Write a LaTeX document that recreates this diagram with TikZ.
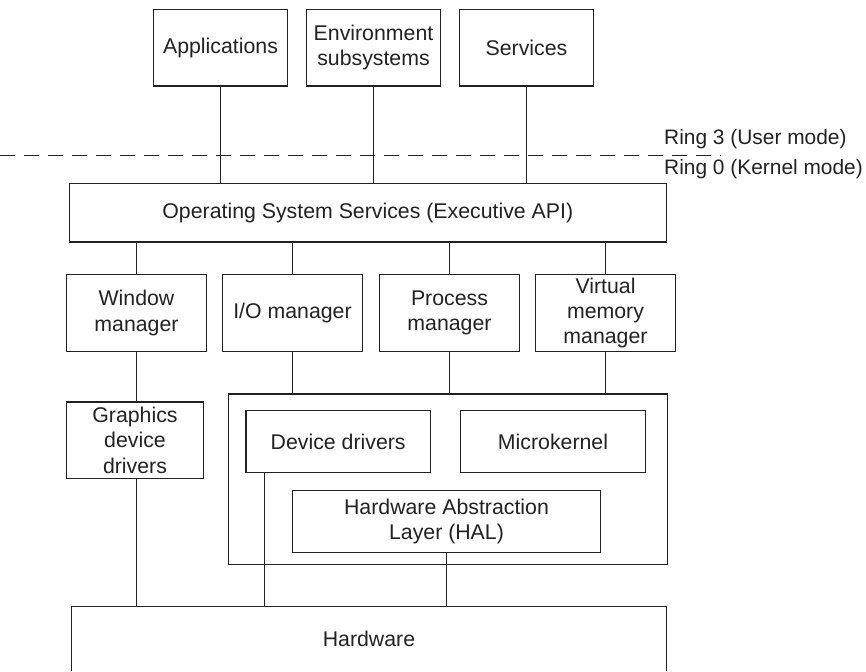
\documentclass[tikz,border=0pt]{standalone}
\usepackage{fontspec}
\setmainfont{Liberation Sans}
\usetikzlibrary{calc}
\definecolor{ink}{HTML}{222222}
\begin{document}
\begin{tikzpicture}[x=1pt,y=-1pt,
  every node/.style={font=\fontsize{21.3}{25.3}\selectfont, text=ink},
  box/.style={draw=ink, line width=1.2pt, inner sep=0pt, align=center},
  wire/.style={draw=ink, line width=1.2pt},
  ringlabel/.style={anchor=base west, inner sep=0pt, font=\fontsize{20.9}{25}\selectfont},
  ringline/.style={draw=ink, line width=1.2pt, dash pattern=on 15pt off 9pt}]
\useasboundingbox (0,0) rectangle (866,671);
% top row
\node[box, minimum width=134.6pt, minimum height=76.7pt] (app) at (220.5,47.7) {Applications};
\node[box, minimum width=134.3pt, minimum height=76.7pt] (env) at (373.5,47.7) {Environment\\subsystems};
\node[box, minimum width=134.7pt, minimum height=76.7pt] (srv) at (526.5,47.7) {Services};
% ring boundary
\coordinate (dl) at (0,155.5);
\coordinate (dr) at (721,155.5);
\draw[ringline] (dl) -- (dr);
\node[ringlabel] (r3) at (664,145) {Ring 3 (User mode)};
\node[ringlabel] (r0) at (664,175) {Ring 0 (Kernel mode)};
% executive
\node[box, minimum width=597pt, minimum height=58.3pt] (os) at (367.8,212.8) {Operating System Services (Executive API)};
% managers
\node[box, minimum width=139.7pt, minimum height=76.6pt] (win) at (136.5,313) {Window\\manager};
\node[box, minimum width=140pt, minimum height=76.6pt] (io) at (292.5,313) {I/O manager};
\node[box, minimum width=139.7pt, minimum height=76.6pt] (proc) at (449.5,313) {Process\\manager};
\node[box, minimum width=140pt, minimum height=76.6pt] (vm) at (605.5,313) {Virtual\\memory\\manager};
% lower
\node[box, minimum width=137.4pt, minimum height=76.7pt] (gdd) at (135,440.3) {Graphics\\device\\drivers};
\node[box, minimum width=439pt, minimum height=170.3pt] (kern) at (447.8,479.2) {};
\node[box, minimum width=184.3pt, minimum height=62pt] (dd) at (338.2,441.7) {Device drivers};
\node[box, minimum width=184.6pt, minimum height=62pt] (mk) at (553,441.7) {Microkernel};
\node[box, minimum width=308pt, minimum height=62.4pt] (hal) at (446.5,521.5) {Hardware Abstraction\\Layer (HAL)};
\node[inner sep=0pt, minimum width=594pt, minimum height=64.3pt] (hw) at (369,638.85) {Hardware};
\draw[wire] (hw.south west) -- (hw.north west) -- (hw.north east) -- (hw.south east);
% connectors
\draw[wire] (app.south) -- (app.south |- os.north);
\draw[wire] (env.south) -- (env.south |- os.north);
\draw[wire] (srv.south) -- (srv.south |- os.north);
\draw[wire] (win.north |- os.south) -- (win.north);
\draw[wire] (io.north |- os.south) -- (io.north);
\draw[wire] (proc.north |- os.south) -- (proc.north);
\draw[wire] (vm.north |- os.south) -- (vm.north);
\draw[wire] (win.south) -- (win.south |- gdd.north);
\draw[wire] (io.south) -- (io.south |- kern.north);
\draw[wire] (proc.south) -- (proc.south |- kern.north);
\draw[wire] (vm.south) -- (vm.south |- kern.north);
\draw[wire] (win.south |- gdd.south) -- (win.south |- hw.north);
\draw[wire] ([xshift=19.3pt]dd.south west) -- ([xshift=19.3pt]dd.south west |- hw.north);
\draw[wire] (hal.south) -- (hal.south |- hw.north);
\end{tikzpicture}
\end{document}
